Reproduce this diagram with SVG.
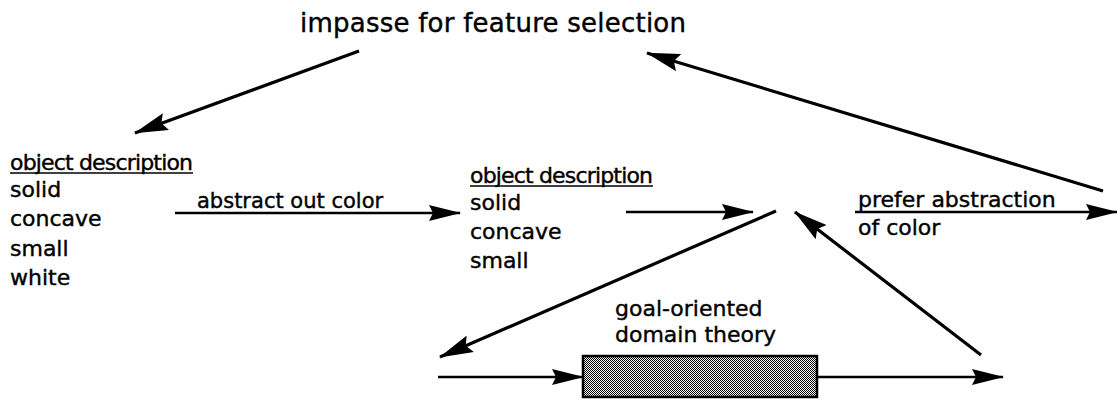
<svg xmlns="http://www.w3.org/2000/svg" width="1117" height="401" viewBox="0 0 1117 401">
<style>
text{font-family:"DejaVu Sans","Liberation Sans",sans-serif;fill:#000;stroke:#000;stroke-width:0.4}
.t{font-size:22px}
.ttl{font-size:26px}
.lbl{font-size:21px}
.ln{stroke:#000;stroke-width:2.5;fill:none}
.dg{stroke:#000;stroke-width:3.2;fill:none}
.u{stroke:#000;stroke-width:1.5}
</style>
<defs>
<marker id="ah" viewBox="0 0 32 16" refX="31" refY="8" markerWidth="32" markerHeight="16" markerUnits="userSpaceOnUse" orient="auto">
<path d="M0,0 L32,8 L0,16 L4,8 z" fill="#000"/>
</marker>
<marker id="ahd" viewBox="0 0 34 18" refX="33" refY="9" markerWidth="34" markerHeight="18" markerUnits="userSpaceOnUse" orient="auto">
<path d="M0,0 L34,9 L0,18 L5,9 z" fill="#000"/>
</marker>
<pattern id="dots" width="2" height="2" patternUnits="userSpaceOnUse">
<rect width="2" height="2" fill="#fff"/>
<rect width="1" height="1" fill="#000"/>
<rect x="1" y="1" width="1" height="1" fill="#000"/>
</pattern>
</defs>
<rect width="1117" height="401" fill="#fff"/>
<g id="impasse">
<text class="ttl" x="300" y="32" textLength="386">impasse for feature selection</text>
</g>
<g id="object1">
<text class="t" x="10" y="170" textLength="183">object description</text>
<line class="u" x1="10" y1="173" x2="193" y2="173"/>
<text class="t" x="10" y="197">solid</text>
<text class="t" x="10" y="226">concave</text>
<text class="t" x="10" y="256">small</text>
<text class="t" x="10" y="285">white</text>
</g>
<g id="object2">
<text class="t" x="470" y="183" textLength="183">object description</text>
<line class="u" x1="470" y1="186" x2="653" y2="186"/>
<text class="t" x="470" y="210">solid</text>
<text class="t" x="470" y="239">concave</text>
<text class="t" x="470" y="268">small</text>
</g>
<g id="prefer">
<text class="t" x="858" y="207">prefer abstraction</text>
<text class="t" x="858" y="235">of color</text>
</g>
<g id="domain-theory">
<text class="t" x="615" y="316">goal-oriented</text>
<text class="t" x="615" y="342">domain theory</text>
<rect x="583" y="356" width="234" height="41" fill="url(#dots)" stroke="#000" stroke-width="2.5"/>
</g>
<g id="connectors">
<line class="dg" x1="359" y1="51" x2="135" y2="133" marker-end="url(#ahd)"/>
<line class="dg" x1="1103" y1="191" x2="647" y2="53" marker-end="url(#ahd)"/>
<line class="ln" x1="175" y1="213" x2="460" y2="213" marker-end="url(#ah)"/>
<text class="lbl" x="197" y="208">abstract out color</text>
<line class="ln" x1="626" y1="212" x2="753" y2="212" marker-end="url(#ah)"/>
<line class="ln" x1="855" y1="212" x2="1117" y2="212" marker-end="url(#ah)"/>
<line class="dg" x1="776" y1="211" x2="440" y2="357" marker-end="url(#ahd)"/>
<line class="dg" x1="981" y1="355" x2="795" y2="212" marker-end="url(#ahd)"/>
<line class="ln" x1="438" y1="377" x2="583" y2="377" marker-end="url(#ah)"/>
<line class="ln" x1="817" y1="377" x2="1003" y2="377" marker-end="url(#ah)"/>
</g>
</svg>
